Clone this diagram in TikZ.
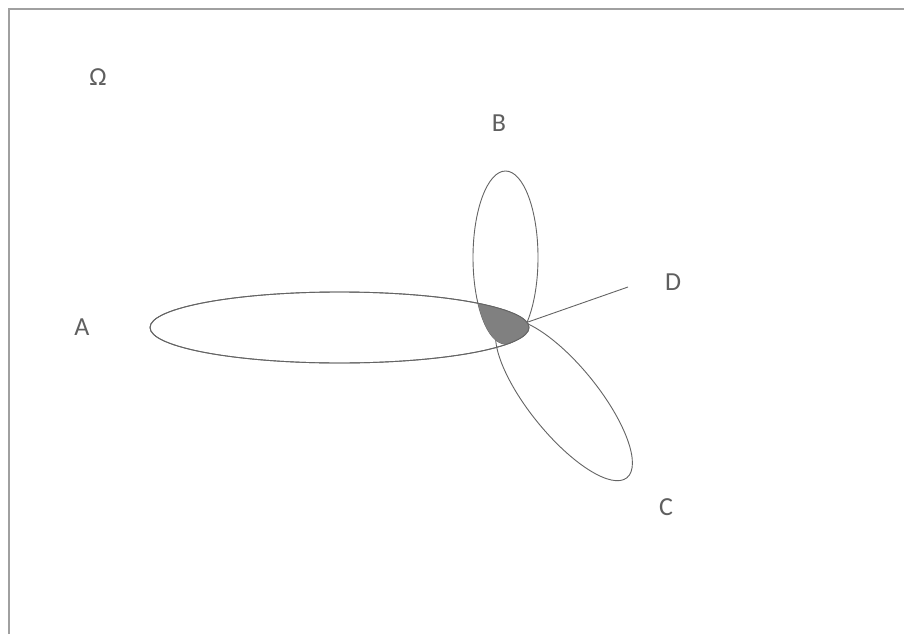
\documentclass[tikz,border=0pt]{standalone}
\usepackage{fontspec}
\setmainfont{Carlito}
\definecolor{framegray}{RGB}{160,160,160}
\definecolor{linegray}{RGB}{100,100,100}
\definecolor{fillgray}{RGB}{128,128,128}
\definecolor{textgray}{RGB}{95,95,95}
\tikzset{
  outline/.style={draw=linegray, line width=0.9pt},
  lbl/.style={inner sep=0pt, text=textgray, font=\fontsize{26}{30}\selectfont},
}
\begin{document}
\begin{tikzpicture}[x=1pt, y=-1pt]
\useasboundingbox (0,0) rectangle (904,634);
\fill[white] (0,0) rectangle (904,634);
% frame (only top and left edges are visible)
\draw[framegray, line width=1.6pt] (9,634) -- (9,9) -- (904,9);
% centres and the common point
\coordinate (cA) at (339.5,327.5);
\coordinate (cB) at (505.5,257.5);
\coordinate (cC) at (564,400);
\coordinate (P) at (528,322);
\coordinate (Dend) at (628,287);
% outlines
\draw[outline] (cA) ellipse [x radius=189.5pt, y radius=35.5pt];
\draw[outline] (cB) ellipse [x radius=32.5pt, y radius=86.5pt];
\draw[outline, rotate around={-51:(cC)}] (cC) ellipse [x radius=100pt, y radius=34.5pt];
\draw[outline] (P) -- (Dend);
% shaded region: the tip of A to the right of the left side of B
\begin{scope}
  \clip (cA) ellipse [x radius=189.5pt, y radius=35.5pt];
  \fill[fillgray] (cB) ellipse [x radius=32.5pt, y radius=86.5pt];
  \fill[fillgray] (505.5,250) rectangle (560,370);
\end{scope}
\draw[outline] (cA) ellipse [x radius=189.5pt, y radius=35.5pt];
% labels
\node[lbl] (omega) at (98,77) {Ω};
\node[lbl] (lB) at (499,123) {B};
\node[lbl] (lA) at (82,327) {A};
\node[lbl] (lD) at (673,282) {D};
\node[lbl] (lC) at (666,507) {C};
\end{tikzpicture}
\end{document}
